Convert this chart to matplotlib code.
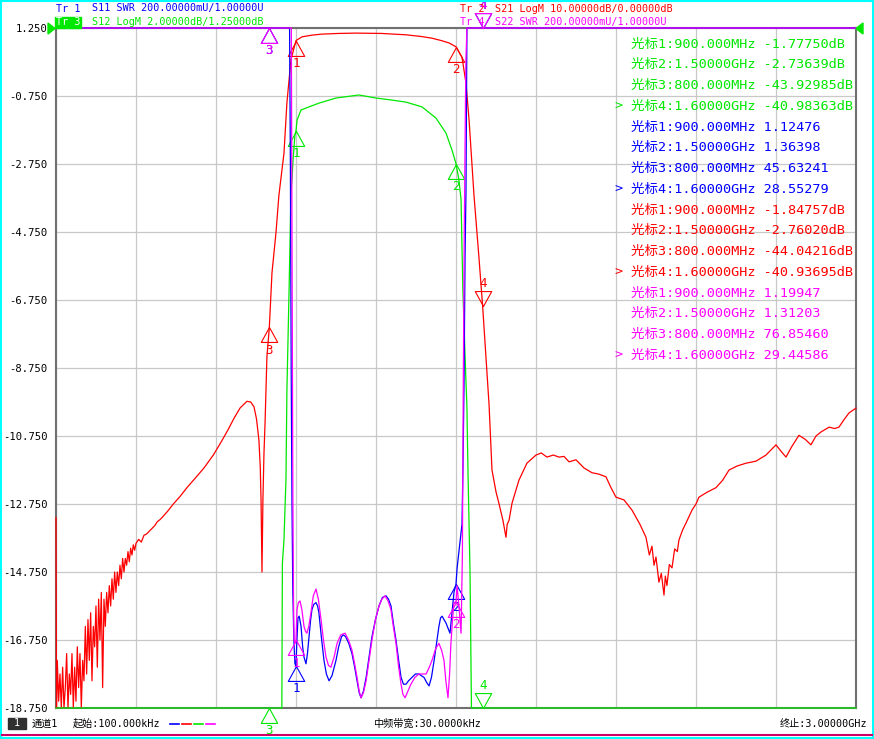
import numpy as np
import matplotlib
matplotlib.use("Agg")
import matplotlib.pyplot as plt
from matplotlib.path import Path
from matplotlib.patches import Rectangle, Polygon
from matplotlib.lines import Line2D

W, H = 874, 739
MONO = ['DejaVu Sans Mono', 'Noto Sans CJK SC']
plt.rcParams['font.family'] = MONO

# sweep + scale settings (GHz / dB / SWR)
f_start, f_stop = 0.0001, 3.0
s12_top, s12_div = 1.25, 2.0      # Tr3, active trace -> left labels
s21_top, s21_div = 0.0, 10.0
swr_bot, swr_div = 1.0, 0.2
n_div = 10

# Tr2  S21 LogM (red)
s21_f = [0.0001, 0.002, 0.005, 0.010, 0.015, 0.020, 0.025, 0.030, 0.035, 0.040,
         0.045, 0.050, 0.055, 0.060, 0.065, 0.070, 0.075, 0.080, 0.085, 0.090,
         0.095, 0.100, 0.105, 0.110, 0.115, 0.120, 0.125, 0.130, 0.135, 0.140,
         0.145, 0.150, 0.155, 0.160, 0.165, 0.170, 0.175, 0.180, 0.185, 0.190,
         0.195, 0.200, 0.205, 0.210, 0.215, 0.220, 0.225, 0.230, 0.235, 0.240,
         0.245, 0.250, 0.255, 0.260, 0.265, 0.270, 0.275, 0.280, 0.285, 0.290,
         0.295, 0.300, 0.310, 0.320, 0.330, 0.340, 0.350, 0.360, 0.370, 0.380,
         0.390, 0.400, 0.420, 0.440, 0.465, 0.491, 0.520, 0.555, 0.590, 0.619,
         0.645, 0.6675, 0.690, 0.716, 0.730, 0.7425, 0.752, 0.761, 0.766, 0.769,
         0.7725, 0.776, 0.780, 0.784, 0.791, 0.800, 0.810, 0.825, 0.836, 0.855,
         0.866, 0.881, 0.900, 0.9225, 0.960, 0.9975, 1.060, 1.125, 1.220, 1.3125,
         1.370, 1.410, 1.445, 1.474, 1.500, 1.5225, 1.5375, 1.549, 1.5675, 1.586,
         1.600, 1.6125, 1.624, 1.635, 1.650, 1.661, 1.676, 1.6875, 1.692, 1.699,
         1.710, 1.736, 1.766, 1.800, 1.820, 1.841, 1.865, 1.886, 1.905, 1.924,
         1.950, 1.980, 2.010, 2.035, 2.0625, 2.080, 2.100, 2.130, 2.160, 2.190,
         2.2125, 2.225, 2.235, 2.2425, 2.250, 2.261, 2.270, 2.280, 2.285, 2.291,
         2.300, 2.310, 2.320, 2.330, 2.336, 2.350, 2.3625, 2.385, 2.400, 2.411,
         2.440, 2.475, 2.500, 2.524, 2.555, 2.5875, 2.625, 2.6625, 2.700, 2.720,
         2.7375, 2.760, 2.786, 2.810, 2.831, 2.850, 2.869, 2.899, 2.920, 2.936,
         2.955, 2.974, 3.000]
s21_db = [-72, -100, -93, -99, -95, -100, -94, -100, -97, -92,
          -100, -95, -98, -92, -100, -94, -99, -91, -97, -92,
          -100, -93, -96, -88, -95, -87, -93, -86, -96, -88,
          -91, -85, -94, -84, -90, -83, -97, -84, -88, -83,
          -86, -82, -85, -81, -84, -80, -83, -80, -82, -79,
          -81, -78, -80, -78, -79, -77, -78.5, -76.5, -77.5, -76,
          -76.8, -75.8, -75.2, -75.6, -74.6, -74.4, -74.0, -73.6, -73.2, -72.6,
          -72.3, -71.9, -71.0, -70.0, -68.9, -67.6, -66.3, -64.7, -62.8, -60.9,
          -59.1, -57.4, -55.9, -54.9, -55.0, -55.7, -57.5, -60.6, -64.5, -69.4,
          -80.0, -69.4, -62.5, -58.1, -48.4, -44.04, -36.0, -30.1, -24.6, -18.4,
          -11.0, -4.7, -1.85, -1.3, -1.05, -0.9, -0.8, -0.75, -0.8, -1.0,
          -1.25, -1.5, -1.85, -2.2, -2.76, -4.3, -8.1, -13.5, -24.6, -33.7,
          -40.94, -48.4, -55.4, -65.0, -68.2, -69.9, -72.4, -74.9, -73.0, -72.4,
          -69.9, -66.5, -64.0, -62.8, -62.5, -63.1, -62.8, -63.1, -63.0, -63.8,
          -63.5, -64.7, -65.4, -65.6, -66.0, -67.5, -69.0, -69.4, -70.9, -73.0,
          -74.9, -77.5, -76.2, -79.0, -77.8, -81.5, -80.2, -83.4, -80.6, -82.0,
          -78.9, -79.4, -76.6, -77.0, -75.3, -73.8, -72.8, -70.9, -70.0, -69.0,
          -68.3, -67.6, -66.5, -65.0, -64.4, -64.0, -63.7, -62.8, -61.3, -62.3,
          -63.1, -61.5, -59.9, -60.5, -61.3, -60.0, -59.4, -58.7, -58.9, -58.7,
          -57.6, -56.6, -55.9]

# Tr3  S12 LogM (green)
s12_f = [0.0001, 0.2, 0.5, 0.716, 0.8, 0.84, 0.847, 0.849, 0.855, 0.8625,
         0.866, 0.874, 0.8775, 0.881, 0.885, 0.889, 0.896, 0.90, 0.904, 0.919,
         0.949, 0.986, 1.05, 1.136, 1.20, 1.26, 1.3125, 1.3725, 1.425, 1.4625,
         1.485, 1.50, 1.511, 1.519, 1.522, 1.526, 1.534, 1.541, 1.545, 1.5525,
         1.555, 1.558, 1.60, 2.0, 2.28, 3.0]
s12_db = [-98, -82, -65, -55, -43.93, -30, -20, -14.5, -13.8, -12.0,
          -9.4, -6.5, -5.1, -3.6, -3.2, -2.63, -1.9, -1.7775, -1.46, -1.16,
          -1.07, -0.96, -0.81, -0.72, -0.81, -0.87, -0.93, -1.07, -1.40, -1.84,
          -2.34, -2.736, -3.22, -3.8, -5.0, -6.5, -8.4, -9.9, -11.8, -14.7,
          -16.5, -25, -40.98, -65, -82, -56]

# Tr1  S11 SWR (blue)
s11_f = [0.0001, 0.5, 0.8, 0.87, 0.876, 0.879, 0.882, 0.885, 0.888, 0.892,
         0.896, 0.90, 0.9035, 0.9075, 0.912, 0.919, 0.925, 0.930, 0.9375, 0.943,
         0.949, 0.955, 0.96, 0.967, 0.975, 0.981, 0.986, 0.995, 1.005, 1.014,
         1.024, 1.035, 1.05, 1.06, 1.071, 1.078, 1.086, 1.098, 1.11, 1.12,
         1.129, 1.137, 1.144, 1.153, 1.163, 1.174, 1.185, 1.198, 1.2113, 1.224,
         1.2375, 1.247, 1.2563, 1.265, 1.275, 1.285, 1.294, 1.303, 1.3125, 1.322,
         1.335, 1.348, 1.361, 1.37, 1.38, 1.39, 1.399, 1.408, 1.418, 1.427,
         1.436, 1.442, 1.448, 1.455, 1.4625, 1.47, 1.4775, 1.485, 1.4925, 1.50,
         1.504, 1.511, 1.5225, 1.526, 1.53, 1.534, 1.5375, 1.541, 1.545, 1.6,
         2.0, 3.0]
s11_swr = [80, 60, 45.63, 20, 3.5, 2.6, 2.0, 1.6, 1.35, 1.2,
           1.13, 1.12476, 1.2, 1.265, 1.27, 1.24, 1.18, 1.15, 1.13, 1.16,
           1.21, 1.26, 1.29, 1.305, 1.31, 1.30, 1.28, 1.21, 1.14, 1.10,
           1.08, 1.095, 1.14, 1.18, 1.21, 1.215, 1.21, 1.19, 1.16, 1.12,
           1.08, 1.045, 1.03, 1.05, 1.09, 1.15, 1.21, 1.26, 1.30, 1.325,
           1.33, 1.32, 1.30, 1.25, 1.20, 1.14, 1.09, 1.07, 1.07, 1.08,
           1.09, 1.10, 1.10, 1.095, 1.09, 1.075, 1.065, 1.09, 1.14, 1.19,
           1.24, 1.265, 1.27, 1.26, 1.25, 1.235, 1.22, 1.28, 1.34, 1.364,
           1.41, 1.46, 1.54, 1.70, 1.94, 2.33, 2.52, 3.2, 6.0, 28.55,
           40, 30]

# Tr4  S22 SWR (magenta)
s22_f = [0.0001, 0.5, 0.8, 0.878, 0.8825, 0.885, 0.8885, 0.891, 0.893, 0.896,
         0.90, 0.904, 0.909, 0.915, 0.922, 0.93, 0.936, 0.941, 0.948, 0.956,
         0.965, 0.975, 0.984, 0.994, 1.003, 1.0125, 1.022, 1.031, 1.043, 1.054,
         1.068, 1.084, 1.097, 1.11, 1.12, 1.129, 1.137, 1.144, 1.153, 1.163,
         1.174, 1.185, 1.198, 1.2113, 1.222, 1.234, 1.245, 1.256, 1.265, 1.275,
         1.285, 1.294, 1.301, 1.309, 1.32, 1.331, 1.346, 1.361, 1.375, 1.388,
         1.40, 1.41, 1.424, 1.436, 1.446, 1.455, 1.462, 1.47, 1.476, 1.481,
         1.487, 1.4925, 1.50, 1.504, 1.511, 1.519, 1.524, 1.527, 1.531, 1.537,
         1.541, 1.55, 1.6, 2.0, 3.0]
s22_swr = [90, 70, 76.85, 30, 3.5, 2.4, 1.6, 1.3, 1.2, 1.19,
           1.19947, 1.29, 1.31, 1.315, 1.29, 1.24, 1.225, 1.22, 1.24, 1.28,
           1.33, 1.35, 1.32, 1.26, 1.20, 1.15, 1.125, 1.12, 1.15, 1.19,
           1.215, 1.22, 1.20, 1.17, 1.13, 1.09, 1.05, 1.03, 1.045, 1.08,
           1.14, 1.20, 1.26, 1.30, 1.32, 1.33, 1.315, 1.29, 1.24, 1.19,
           1.12, 1.07, 1.04, 1.03, 1.05, 1.07, 1.09, 1.10, 1.10, 1.10,
           1.12, 1.14, 1.175, 1.19, 1.17, 1.14, 1.08, 1.03, 1.10, 1.19,
           1.26, 1.31, 1.312, 1.36, 1.30, 1.22, 1.45, 1.9, 2.4, 2.9,
           3.3, 8.0, 29.45, 50, 40]

# markers (readout table)
mk_f = [0.9, 1.5, 0.8, 1.6]
mk_s12 = [-1.77750, -2.73639, -43.92985, -40.98363]
mk_s11 = [1.12476, 1.36398, 45.63241, 28.55279]
mk_s21 = [-1.84757, -2.76020, -44.04216, -40.93695]
mk_s22 = [1.19947, 1.31203, 76.85460, 29.44586]
active_mk = 4

RED, GREEN, BLUE, MAG = '#ff0000', '#00e800', '#0000ff', '#ff00ff'
GRID, FRAME = '#c8c8c8', '#707070'


def fx(x):
    return x / W


def fy(y):
    return 1 - y / H


def ftext(x, y, s, **kw):
    kw.setdefault('va', 'center')
    kw.setdefault('fontsize', 7.3)
    fig.text(fx(x), fy(y), s, **kw)


fig = plt.figure(figsize=(W / 100, H / 100), dpi=100)
fig.patch.set_facecolor('white')
ax = fig.add_axes([fx(56), fy(708), 800 / W, 680 / H])

s12_lo = s12_top - n_div * s12_div
s21_lo = s21_top - n_div * s21_div
swr_hi = swr_bot + n_div * swr_div

ax.set_xlim(f_start, f_stop)
ax.set_ylim(s12_lo, s12_top)
ax.set_xticks([f_start + k * (f_stop - f_start) / n_div for k in range(n_div + 1)])
ax.set_xticklabels([])
yt = [s12_top - k * s12_div for k in range(n_div + 1)]
ax.set_yticks(yt)
ax.set_yticklabels([f"{v:.3f}" for v in yt], fontsize=7.6)
ax.tick_params(length=0, pad=6)
ax.grid(True, color=GRID, lw=0.9)
for sp in ax.spines.values():
    sp.set_color(FRAME)
    sp.set_linewidth(1.5)

UP = Path([(0, 0), (-0.55, -1), (0.55, -1), (0, 0)])
DOWN = Path([(0, 0), (-0.55, 1), (0.55, 1), (0, 0)])

# (range, freq, values, marker values, colour, unit) in drawing order
traces = [
    ((s21_lo, s21_top), s21_f, s21_db, mk_s21, RED, 'dB'),
    ((s12_lo, s12_top), s12_f, s12_db, mk_s12, GREEN, 'dB'),
    ((swr_bot, swr_hi), s11_f, s11_swr, mk_s11, BLUE, ''),
    ((swr_bot, swr_hi), s22_f, s22_swr, mk_s22, MAG, ''),
]

for (lo, hi), f, v, mk, c, unit in traces:
    t = ax.twinx()
    t.set_ylim(lo, hi)
    t.set_axis_off()
    t.plot(f, np.clip(v, lo, hi), color=c, lw=0.9, clip_on=False)
    for i, (mf, mv) in enumerate(zip(mk_f, mk)):
        mv = min(max(mv, lo), hi)
        down = (i + 1) == active_mk
        t.plot([mf], [mv], ls='none', marker=DOWN if down else UP, ms=21.5,
               mfc='none', mec=c, mew=0.8, clip_on=False)
        t.annotate(str(i + 1), (mf, mv), xytext=(0, 16.5 if down else -16.5),
                   textcoords='offset points', ha='center', va='center',
                   color=c, fontsize=9, annotation_clip=False)

# reference position arrows
fig.add_artist(Polygon([(fx(48), fy(23)), (fx(48), fy(34)), (fx(55), fy(28.5))],
                       closed=True, color=GREEN, transform=fig.transFigure))
fig.add_artist(Polygon([(fx(863), fy(23)), (fx(863), fy(34)), (fx(856), fy(28.5))],
                       closed=True, color=GREEN, transform=fig.transFigure))

# header
ftext(56, 8.5, "Tr 1", color=BLUE)
ftext(92, 8.5, f"S11 SWR {swr_div * 1000:.5f}mU/{swr_bot:.5f}U", color=BLUE)
fig.add_artist(Rectangle((fx(55), fy(27.5)), 26 / W, 11 / H, color=GREEN,
                         transform=fig.transFigure))
ftext(56, 22, "Tr 3", color='white')
ftext(92, 22, f"S12 LogM {s12_div:.5f}dB/{s12_top:.5f}dB", color=GREEN)
ftext(460, 8.5, "Tr 2", color=RED)
ftext(495, 8.5, f"S21 LogM {s21_div:.5f}dB/{s21_top:.5f}dB", color=RED)
ftext(460, 22, "Tr 4", color=MAG)
ftext(495, 22, f"S22 SWR {swr_div * 1000:.5f}mU/{swr_bot:.5f}U", color=MAG)

# marker readout: S12, S11, S21, S22
row = 0
for (lo, hi), f, v, mk, c, unit in [traces[1], traces[2], traces[0], traces[3]]:
    for i, (mf, mv) in enumerate(zip(mk_f, mk)):
        fs = f"{mf * 1000:.3f}MHz" if mf < 1 else f"{mf:.5f}GHz"
        y = 44 + 20.75 * row
        if i + 1 == active_mk:
            ftext(614, y, ">", color=c, fontsize=9.7)
        ftext(631, y, f"光标{i + 1}:{fs} {mv:.5f}{unit}", color=c, fontsize=9.7)
        row += 1

# status bar
fig.add_artist(Rectangle((fx(8), fy(729)), 18 / W, 11 / H, color='#303030',
                         transform=fig.transFigure))
ftext(17, 723.5, "1", color='white', ha='center')
ftext(32, 723.5, "通道1", color='black')
ftext(73, 723.5, f"起始:{f_start * 1e6:.3f}kHz", color='black')
for x0, c in [(170, BLUE), (182, RED), (194, GREEN), (206, MAG)]:
    fig.add_artist(Line2D([fx(x0), fx(x0 + 9)], [fy(723.5), fy(723.5)], color=c,
                          lw=1.2, transform=fig.transFigure))
ftext(373, 723.5, "中频带宽:30.0000kHz", color='black')
ftext(867, 723.5, f"终止:{f_stop:.5f}GHz", color='black', ha='right')

# window border
for xs, ys, c in [([0, W], [0.8, 0.8], '#00ffff'), ([0.8, 0.8], [0, H], '#00ffff'),
                  ([W - 1.2, W - 1.2], [0, H], '#00ffff'), ([0, W], [H - 1, H - 1], '#00ffff'),
                  ([2, W - 2], [735, 735], '#cc0066')]:
    fig.add_artist(Line2D([fx(x) for x in xs], [fy(y) for y in ys], color=c, lw=1.5,
                          transform=fig.transFigure))

fig.savefig('out.png', dpi=100)
